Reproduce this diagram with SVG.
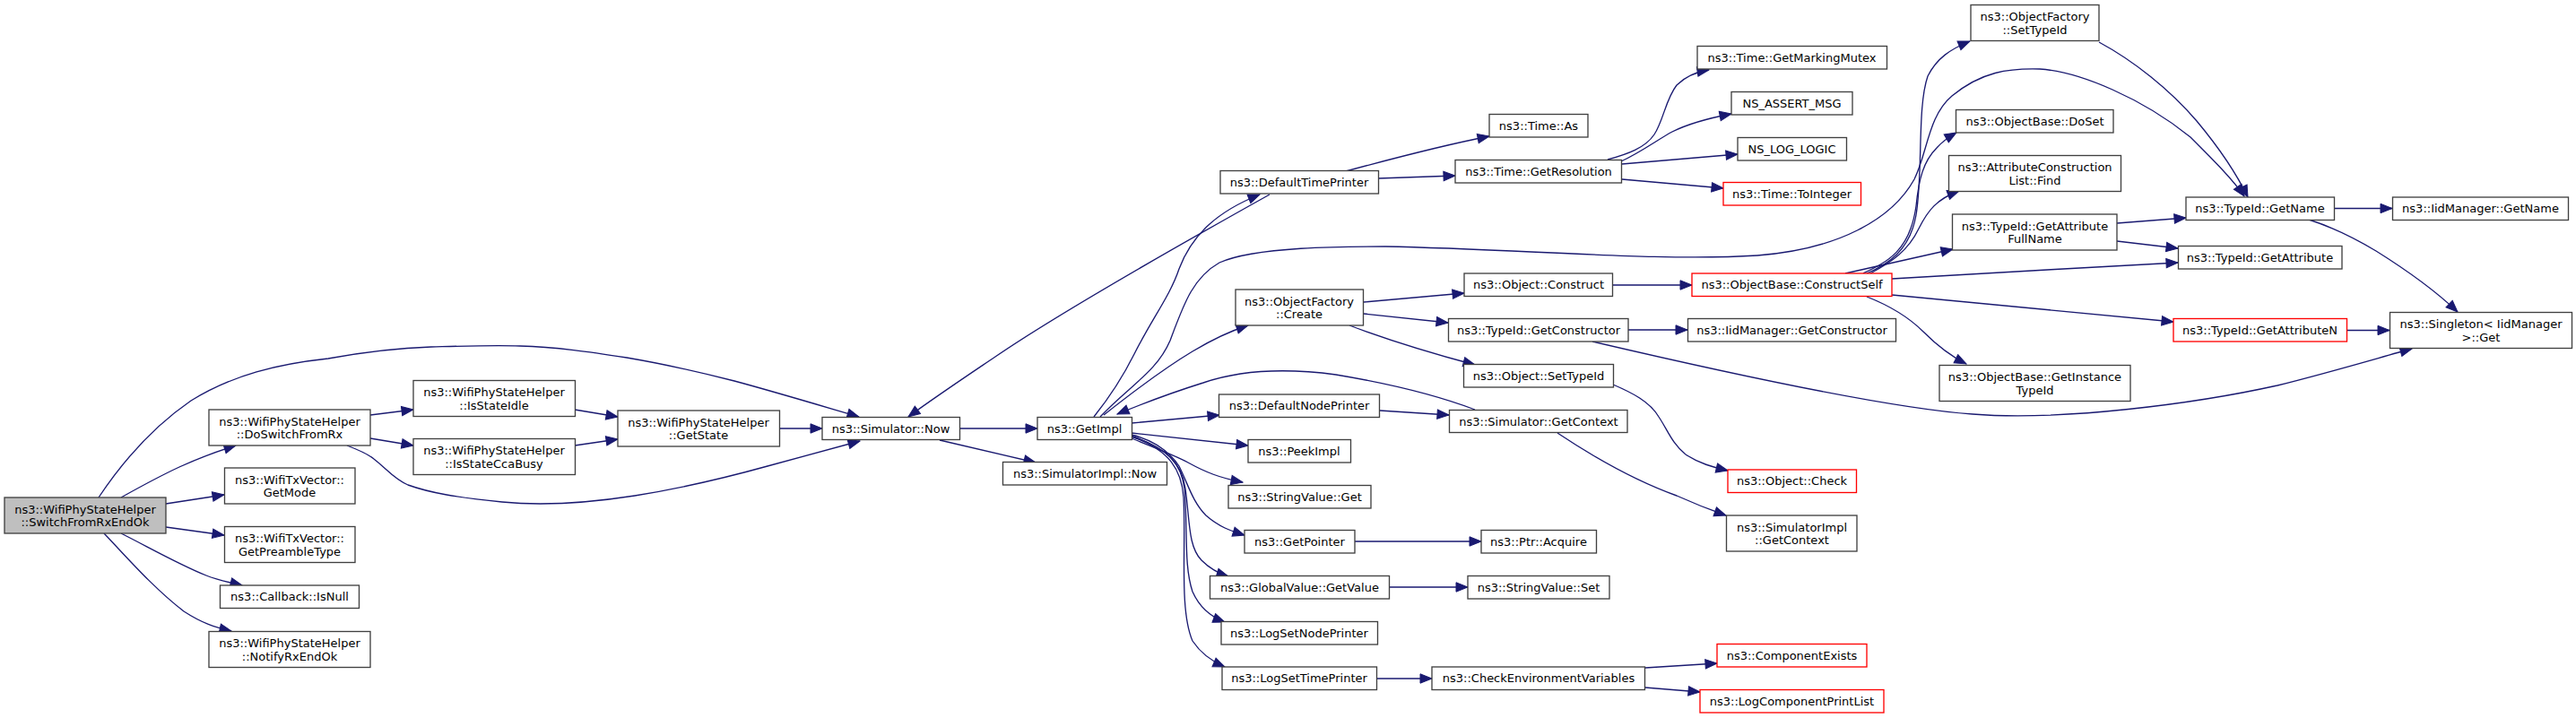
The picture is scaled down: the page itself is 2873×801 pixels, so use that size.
<svg xmlns="http://www.w3.org/2000/svg" width="2873" height="801" viewBox="0 0 2873 801">
<style>
.n rect{fill:#fff;stroke:#404040;stroke-width:1.33}
.root rect{fill:#bfbfbf;stroke:#404040;stroke-width:1.33}
.red rect{fill:#fff;stroke:#ff0000;stroke-width:1.33}
text{font-family:"DejaVu Sans","Liberation Sans",sans-serif;font-size:13px;text-anchor:middle;fill:#000}
.e path{fill:none;stroke:#191970;stroke-width:1.33;marker-end:url(#a)}
</style>
<defs>
<marker id="a" markerUnits="userSpaceOnUse" markerWidth="16" markerHeight="13" refX="13" refY="5.5" orient="auto" overflow="visible">
<path d="M0,0.3 L13,5.5 L0,10.7 z" fill="#191970" stroke="#191970" stroke-width="1"/>
</marker>
</defs>
<rect width="2873" height="801" fill="#fff"/>
<g id="edges" class="e">
<path d="M110,555 C130,525 165,480 213,447 C260,418 310,406 366,400 C410,392 450,388 481,387 C520,386 550,385 580,386 C620,387 660,393 699,399 C740,406 780,415 819,425 C860,436 900,448 958,465"/>
<path d="M135,555 C160,541 185,528 200,521 C220,512 240,504 263,497"/>
<path d="M185,562 L250,552"/>
<path d="M185,588 L250,597"/>
<path d="M135,595 C165,610 200,630 230,642 C245,648 258,650 270,653"/>
<path d="M116,595 C140,620 170,655 205,682 C225,695 240,700 258,704"/>
<path d="M413,463 L461,457"/>
<path d="M413,489 L461,497"/>
<path d="M387,497 C400,502 410,506 417,512 C430,522 440,535 455,541 C480,550 510,555 560,560 C600,564 650,562 708,553 C770,543 820,530 856,520 C900,508 930,500 959,492"/>
<path d="M641,457 L689,465"/>
<path d="M641,497 L689,490"/>
<path d="M869,478 L917,478"/>
<path d="M1070,478 L1157,478"/>
<path d="M1048,491 L1155,516"/>
<path d="M1416,217 C1330,265 1180,350 1110,398 C1070,425 1040,445 1013,465"/>
<path d="M1220,465 C1240,440 1255,415 1265,395 C1285,355 1305,330 1315,300 C1330,260 1360,235 1405,217"/>
<path d="M1227,465 C1260,430 1290,415 1305,380 C1320,340 1330,310 1360,293 C1400,275 1500,275 1545,275 C1700,278 1850,292 1960,285 C2050,278 2110,245 2135,200 C2150,170 2150,130 2177,107 C2210,80 2240,76 2275,77 C2320,80 2390,110 2443,153 C2470,180 2490,200 2503,219"/>
<path d="M1231,463 C1260,440 1300,410 1330,392 C1350,380 1370,370 1392,363"/>
<path d="M1645,457 C1600,440 1550,428 1490,418 C1430,410 1380,414 1342,427 C1310,437 1280,448 1246,462"/>
<path d="M1262,472 L1360,463"/>
<path d="M1262,483 L1392,497"/>
<path d="M1262,489 C1290,500 1310,508 1325,516 C1345,527 1360,533 1386,538"/>
<path d="M1262,485 C1290,492 1305,505 1315,520 C1325,540 1330,560 1345,575 C1360,588 1372,592 1388,597"/>
<path d="M1262,486 C1300,500 1318,515 1322,545 C1327,580 1325,610 1340,625 C1350,635 1360,640 1370,643"/>
<path d="M1262,487 C1305,500 1318,520 1321,545 C1325,590 1320,630 1330,660 C1338,678 1350,688 1366,694"/>
<path d="M1262,487 C1305,502 1318,525 1320,555 C1323,610 1315,680 1330,715 C1340,730 1352,738 1366,744"/>
<path d="M1539,458 L1616,463"/>
<path d="M1511,604 L1652,604"/>
<path d="M1549,655 L1637,655"/>
<path d="M1535,757 L1597,757"/>
<path d="M1835,745 L1915,740"/>
<path d="M1835,767 L1896,772"/>
<path d="M1501,191 C1560,175 1610,162 1661,152"/>
<path d="M1537,199 L1623,196"/>
<path d="M1793,178 C1815,172 1835,165 1845,150 C1855,135 1858,110 1870,95 C1880,85 1893,80 1906,78"/>
<path d="M1808,180 C1830,170 1850,155 1865,147 C1885,137 1905,132 1931,127"/>
<path d="M1809,183 L1938,172"/>
<path d="M1809,200 L1922,210"/>
<path d="M1521,337 L1633,327"/>
<path d="M1521,350 L1615,360"/>
<path d="M1505,363 C1550,380 1600,395 1645,407"/>
<path d="M1799,318 L1887,318"/>
<path d="M1816,368 L1882,368"/>
<path d="M1776,381 C1900,410 2100,455 2200,462 C2300,470 2450,450 2540,430 C2600,415 2650,400 2690,389"/>
<path d="M1799,429 C1820,438 1840,448 1850,465 C1860,480 1865,495 1880,507 C1895,517 1910,521 1927,525"/>
<path d="M1737,483 C1770,505 1820,535 1870,553 C1890,562 1905,568 1925,575"/>
<path d="M2082,305 C2105,295 2130,280 2137,240 C2145,190 2138,120 2150,85 C2160,65 2175,55 2197,46"/>
<path d="M2078,305 C2105,292 2130,280 2137,230 C2140,200 2145,180 2160,165 C2167,157 2175,152 2182,148"/>
<path d="M2086,305 C2110,292 2128,280 2140,255 C2150,235 2160,222 2185,213"/>
<path d="M2058,305 L2178,278"/>
<path d="M2110,311 C2200,306 2330,298 2429,293"/>
<path d="M2110,329 L2424,359"/>
<path d="M2082,331 C2110,342 2130,355 2145,370 C2160,385 2175,397 2193,406"/>
<path d="M2341,47 C2380,68 2420,100 2450,135 C2475,165 2495,195 2507,220"/>
<path d="M2361,249 L2438,243"/>
<path d="M2361,269 L2429,277"/>
<path d="M2604,232.5 L2668,232.5"/>
<path d="M2575,245 C2600,253 2625,265 2650,280 C2690,305 2720,328 2741,348"/>
<path d="M2617,368.5 L2665,368.5"/>
</g>
<g id="node1" class="root"><rect x="5" y="555" width="180" height="40"/><text x="95" y="572.5">ns3::WifiPhyStateHelper</text><text x="95" y="587">::SwitchFromRxEndOk</text></g>
<g id="node2" class="n"><rect x="233" y="457" width="180" height="40"/><text x="323" y="474.5">ns3::WifiPhyStateHelper</text><text x="323" y="489">::DoSwitchFromRx</text></g>
<g id="node3" class="n"><rect x="250.5" y="522" width="145.5" height="40"/><text x="323" y="539.5">ns3::WifiTxVector::</text><text x="323" y="554">GetMode</text></g>
<g id="node4" class="n"><rect x="250.5" y="587.5" width="145.5" height="40"/><text x="323" y="605">ns3::WifiTxVector::</text><text x="323" y="619.5">GetPreambleType</text></g>
<g id="node5" class="n"><rect x="245.5" y="653" width="155" height="25.5"/><text x="323" y="670">ns3::Callback::IsNull</text></g>
<g id="node6" class="n"><rect x="233" y="704.5" width="180" height="40"/><text x="323" y="722">ns3::WifiPhyStateHelper</text><text x="323" y="736.5">::NotifyRxEndOk</text></g>
<g id="node7" class="n"><rect x="461" y="424.5" width="180.5" height="40"/><text x="551" y="442">ns3::WifiPhyStateHelper</text><text x="551" y="456.5">::IsStateIdle</text></g>
<g id="node8" class="n"><rect x="461" y="489.5" width="180.5" height="40"/><text x="551" y="507">ns3::WifiPhyStateHelper</text><text x="551" y="521.5">::IsStateCcaBusy</text></g>
<g id="node9" class="n"><rect x="689" y="458" width="180.5" height="40"/><text x="779" y="475.5">ns3::WifiPhyStateHelper</text><text x="779" y="490">::GetState</text></g>
<g id="node10" class="n"><rect x="917" y="465.5" width="153.5" height="25"/><text x="993.5" y="482.5">ns3::Simulator::Now</text></g>
<g id="node11" class="n"><rect x="1118.5" y="515.5" width="183" height="25.5"/><text x="1210" y="532.5">ns3::SimulatorImpl::Now</text></g>
<g id="node12" class="n"><rect x="1157" y="465.5" width="105.5" height="25"/><text x="1209.5" y="482.5">ns3::GetImpl</text></g>
<g id="node13" class="n"><rect x="1361" y="190.5" width="176.5" height="25.5"/><text x="1449" y="207.5">ns3::DefaultTimePrinter</text></g>
<g id="node14" class="n"><rect x="1378" y="323" width="142.5" height="40"/><text x="1449" y="340.5">ns3::ObjectFactory</text><text x="1449" y="355">::Create</text></g>
<g id="node15" class="n"><rect x="1359.5" y="440" width="179" height="25.5"/><text x="1449" y="457">ns3::DefaultNodePrinter</text></g>
<g id="node16" class="n"><rect x="1392" y="490.5" width="114.5" height="25.5"/><text x="1449" y="507.5">ns3::PeekImpl</text></g>
<g id="node17" class="n"><rect x="1370" y="541.5" width="159" height="25.5"/><text x="1449.5" y="558.5">ns3::StringValue::Get</text></g>
<g id="node18" class="n"><rect x="1388" y="591.5" width="123" height="25.5"/><text x="1449.5" y="608.5">ns3::GetPointer</text></g>
<g id="node19" class="n"><rect x="1349.5" y="642.5" width="200" height="25.5"/><text x="1449.5" y="659.5">ns3::GlobalValue::GetValue</text></g>
<g id="node20" class="n"><rect x="1362" y="693.5" width="174.5" height="25.5"/><text x="1449" y="710.5">ns3::LogSetNodePrinter</text></g>
<g id="node21" class="n"><rect x="1363" y="744" width="172.5" height="25.5"/><text x="1449" y="761">ns3::LogSetTimePrinter</text></g>
<g id="node22" class="n"><rect x="1661" y="127.5" width="110" height="25.5"/><text x="1716" y="144.5">ns3::Time::As</text></g>
<g id="node23" class="n"><rect x="1623" y="178.5" width="185.5" height="25.5"/><text x="1716" y="195.5">ns3::Time::GetResolution</text></g>
<g id="node24" class="n"><rect x="1633" y="305" width="165.5" height="25.5"/><text x="1716" y="322">ns3::Object::Construct</text></g>
<g id="node25" class="n"><rect x="1615.5" y="355.5" width="200.5" height="25.5"/><text x="1716" y="372.5">ns3::TypeId::GetConstructor</text></g>
<g id="node26" class="n"><rect x="1632.5" y="406.5" width="167" height="25.5"/><text x="1716" y="423.5">ns3::Object::SetTypeId</text></g>
<g id="node27" class="n"><rect x="1616.5" y="457.5" width="198.5" height="25"/><text x="1716" y="474.5">ns3::Simulator::GetContext</text></g>
<g id="node28" class="n"><rect x="1652" y="591.5" width="128.5" height="25.5"/><text x="1716" y="608.5">ns3::Ptr::Acquire</text></g>
<g id="node29" class="n"><rect x="1637" y="642.5" width="158" height="25.5"/><text x="1716" y="659.5">ns3::StringValue::Set</text></g>
<g id="node30" class="n"><rect x="1597" y="744" width="237.5" height="25.5"/><text x="1716" y="761">ns3::CheckEnvironmentVariables</text></g>
<g id="node31" class="n"><rect x="1893" y="51.5" width="211.5" height="25.5"/><text x="1998.5" y="68.5">ns3::Time::GetMarkingMutex</text></g>
<g id="node32" class="n"><rect x="1931" y="102.5" width="135" height="25.5"/><text x="1998.5" y="119.5">NS_ASSERT_MSG</text></g>
<g id="node33" class="n"><rect x="1938" y="153.5" width="121.5" height="25.5"/><text x="1998.5" y="170.5">NS_LOG_LOGIC</text></g>
<g id="node34" class="red"><rect x="1922" y="203.5" width="153.5" height="25.5"/><text x="1998.5" y="220.5">ns3::Time::ToInteger</text></g>
<g id="node35" class="red"><rect x="1887" y="305" width="223" height="25.5"/><text x="1998.5" y="322">ns3::ObjectBase::ConstructSelf</text></g>
<g id="node36" class="n"><rect x="1882.5" y="355.5" width="232" height="25.5"/><text x="1998.5" y="372.5">ns3::IidManager::GetConstructor</text></g>
<g id="node37" class="red"><rect x="1927" y="524" width="143.5" height="25.5"/><text x="1998.5" y="541">ns3::Object::Check</text></g>
<g id="node38" class="n"><rect x="1925.5" y="575" width="145.5" height="40"/><text x="1998.5" y="592.5">ns3::SimulatorImpl</text><text x="1998.5" y="607">::GetContext</text></g>
<g id="node39" class="red"><rect x="1915" y="718.5" width="167" height="25.5"/><text x="1998.5" y="735.5">ns3::ComponentExists</text></g>
<g id="node40" class="red"><rect x="1896" y="769.5" width="205" height="25.5"/><text x="1998.5" y="786.5">ns3::LogComponentPrintList</text></g>
<g id="node41" class="n"><rect x="2198" y="5.5" width="143" height="40"/><text x="2269.5" y="23">ns3::ObjectFactory</text><text x="2269.5" y="37.5">::SetTypeId</text></g>
<g id="node42" class="n"><rect x="2181.5" y="122.5" width="175.5" height="25.5"/><text x="2269.5" y="139.5">ns3::ObjectBase::DoSet</text></g>
<g id="node43" class="n"><rect x="2173.5" y="173.5" width="192" height="40"/><text x="2269.5" y="191">ns3::AttributeConstruction</text><text x="2269.5" y="205.5">List::Find</text></g>
<g id="node44" class="n"><rect x="2177.5" y="239" width="183.5" height="40"/><text x="2269.5" y="256.5">ns3::TypeId::GetAttribute</text><text x="2269.5" y="271">FullName</text></g>
<g id="node45" class="n"><rect x="2163" y="407.5" width="213" height="40"/><text x="2269.5" y="425">ns3::ObjectBase::GetInstance</text><text x="2269.5" y="439.5">TypeId</text></g>
<g id="node46" class="n"><rect x="2438" y="220" width="165.5" height="25.5"/><text x="2520.5" y="237">ns3::TypeId::GetName</text></g>
<g id="node47" class="n"><rect x="2668.5" y="220" width="196" height="25.5"/><text x="2766.5" y="237">ns3::IidManager::GetName</text></g>
<g id="node48" class="n"><rect x="2429.5" y="274.5" width="182.5" height="25.5"/><text x="2520.5" y="291.5">ns3::TypeId::GetAttribute</text></g>
<g id="node49" class="red"><rect x="2424" y="355.5" width="193.5" height="25.5"/><text x="2520.5" y="372.5">ns3::TypeId::GetAttributeN</text></g>
<g id="node50" class="n"><rect x="2665.5" y="348.5" width="203" height="40"/><text x="2767" y="366">ns3::Singleton&lt; IidManager</text><text x="2767" y="380.5">&gt;::Get</text></g>
</svg>
